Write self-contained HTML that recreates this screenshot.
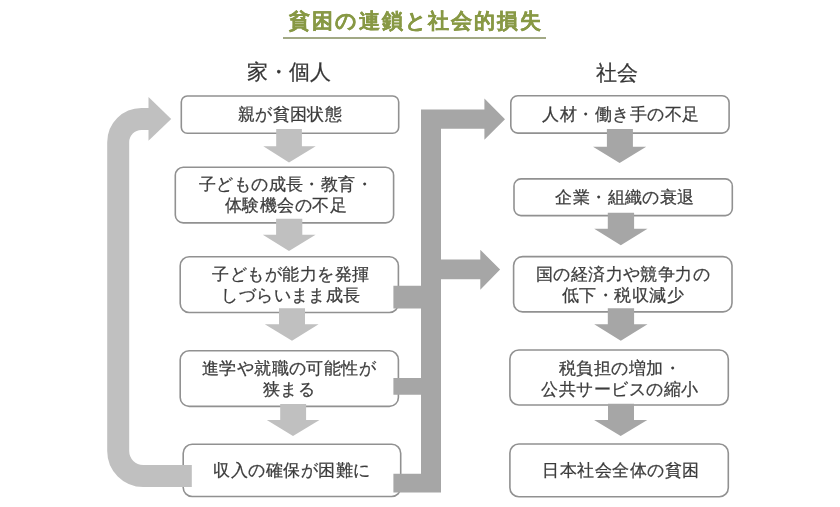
<!DOCTYPE html>
<html><head><meta charset="utf-8">
<style>
html,body{margin:0;padding:0;background:#fff;}
body{width:840px;height:507px;position:relative;overflow:hidden;font-family:"Liberation Sans",sans-serif;color:#3c3c3c;}
svg{position:absolute;left:0;top:0;}
.t{position:absolute;font-size:17px;line-height:20.2px;text-align:center;white-space:nowrap;width:240px;margin-left:-120px;transform:scale(1.028);-webkit-text-stroke:0.25px #3c3c3c;transform-origin:50% 0;will-change:transform;}
.title{position:absolute;left:283px;top:8px;width:266px;text-align:center;font-size:21px;line-height:26px;letter-spacing:1.9px;font-weight:bold;color:#889945;white-space:nowrap;will-change:transform;-webkit-text-stroke:0.3px #889945;}
.hd{position:absolute;font-size:21px;line-height:26px;white-space:nowrap;color:#363636;will-change:transform;-webkit-text-stroke:0.25px #363636;}
</style></head><body>
<svg width="840" height="507" viewBox="0 0 840 507">
  <!-- title underline -->
  <rect x="283" y="37" width="263" height="2" fill="#a2a985"/>
  <!-- boxes -->
  <g fill="#fff" stroke="#919191" stroke-width="1.6">
    <rect x="181.3" y="96" width="217.4" height="37.2" rx="6"/>
    <rect x="175.3" y="167.3" width="218.3" height="55.6" rx="8"/>
    <rect x="180.2" y="256.8" width="218.2" height="55.7" rx="9"/>
    <rect x="180.2" y="350.7" width="218.2" height="55.7" rx="9"/>
    <rect x="183.2" y="444.2" width="217.5" height="52.3" rx="9"/>
    <rect x="510.8" y="95.7" width="218.3" height="37.4" rx="7"/>
    <rect x="514" y="178.9" width="218.3" height="36.7" rx="7"/>
    <rect x="513.6" y="256.6" width="218.4" height="55.3" rx="9"/>
    <rect x="509.9" y="350" width="218.4" height="55" rx="9"/>
    <rect x="509.9" y="444" width="218.4" height="52.8" rx="9"/>
  </g>
  <!-- left down arrows -->
  <g fill="#c0c0c0">
    <polygon points="276.2,129 301.9,129 301.9,146.2 315.7,146.2 289,162.4 263.3,146.2 276.2,146.2"/>
    <polygon points="276.1,218.7 302.3,218.7 302.3,234.7 315.6,234.7 289,251 262.8,234.7 276.1,234.7"/>
    <polygon points="279,308.3 305,308.3 305,324.3 318.6,324.3 292,340.8 264.8,324.3 279,324.3"/>
    <polygon points="280.2,403.9 306.1,403.9 306.1,420 319.5,420 293,436 266.8,420 280.2,420"/>
  </g>
  <!-- right down arrows -->
  <g fill="#a6a6a6">
    <polygon points="606.9,129 632.9,129 632.9,146.8 646.2,146.8 619.6,163.1 593,146.8 606.9,146.8"/>
    <polygon points="607.8,212.7 634.1,212.7 634.1,228.7 647.5,228.7 620.8,245.2 594.2,228.7 607.8,228.7"/>
    <polygon points="607.8,308.3 634.1,308.3 634.1,324.3 647.5,324.3 620.8,340.8 594.2,324.3 607.8,324.3"/>
    <polygon points="608,403.7 634,403.7 634,420 647.3,420 620.7,436 594.1,420 608,420"/>
  </g>
  <!-- left loop -->
  <path d="M191.8,476 L143.2,476 A25,25 0 0 1 118.2,451 L118.2,142.2 A23.2,23.2 0 0 1 141.4,119 L149,119" fill="none" stroke="#c0c0c0" stroke-width="22"/>
  <polygon points="148.5,97 171.2,119 148.5,140.8" fill="#c0c0c0"/>
  <!-- right connector -->
  <path fill="#a6a6a6" d="M421,109.4 L484.4,109.4 L484.4,98.5 L505,119.2 L484.4,139.8 L484.4,128.8 L441,128.8 L441,259.4 L480.3,259.4 L480.3,249.8 L500.1,269.5 L480.3,289.8 L480.3,279.3 L441,279.3 L441,492.4 L393.4,492.4 L393.4,473.8 L421,473.8 L421,394.8 L393.4,394.8 L393.4,377.9 L421,377.9 L421,308.6 L393.4,308.6 L393.4,285.8 L421,285.8 Z"/>
</svg>
<div class="title">貧困の連鎖と社会的損失</div>
<div class="hd" style="left:247px;top:59px;">家・個人</div>
<div class="hd" style="left:596px;top:59.5px;">社会</div>

<div class="t" style="left:290.1px;top:105px;">親が貧困状態</div>
<div class="t" style="left:285.7px;top:175px;">子どもの成長・教育・<br>体験機会の不足</div>
<div class="t" style="left:290.5px;top:265px;">子どもが能力を発揮<br>しづらいまま成長</div>
<div class="t" style="left:289.4px;top:359px;">進学や就職の可能性が<br>狭まる</div>
<div class="t" style="left:291.6px;top:461px;">収入の確保が困難に</div>

<div class="t" style="left:621.2px;top:105px;">人材・働き手の不足</div>
<div class="t" style="left:624.6px;top:188px;">企業・組織の衰退</div>
<div class="t" style="left:623px;top:265px;">国の経済力や競争力の<br>低下・税収減少</div>
<div class="t" style="left:619.7px;top:359px;">税負担の増加・<br>公共サービスの縮小</div>
<div class="t" style="left:620.5px;top:461px;">日本社会全体の貧困</div>
</body></html>
